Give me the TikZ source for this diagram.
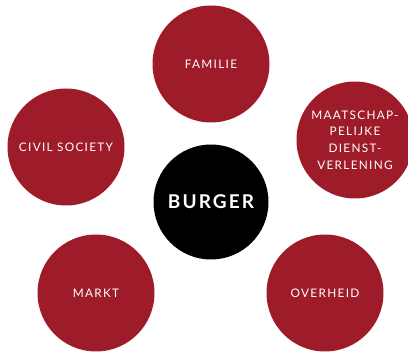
\documentclass[tikz,border=0pt]{standalone}
\usepackage{fontspec}
\setmainfont{Lato}
\usepackage{tikz}
\definecolor{wijnrood}{RGB}{158,27,42}
\def\spaced{\addfontfeatures{LetterSpace=11}}

\begin{document}
\begin{tikzpicture}[x=1pt,y=1pt,
        rol/.style={circle,fill=wijnrood,minimum size=117pt,inner sep=0pt,
            text=white,align=center,font=\fontsize{11.8}{16.8}\selectfont\spaced},
        kern/.style={circle,fill=black,minimum size=115pt,inner sep=0pt,
            text=white,font=\fontsize{19}{21}\selectfont\bfseries\spaced}]
                \useasboundingbox (0,0) rectangle (408,-352);
                \clip (0,0) rectangle (408,-352);
                \node[kern] (burger) at (211,-202) {BURGER};
                \node[rol] (familie) at (211,-64) {FAMILIE};
                \node[rol] (civil) at (66,-147) {CIVIL SOCIETY};
                \node[rol] (dienst) at (355,-140) {MAATSCHAP-\\PELIJKE\\DIENST-\\VERLENING};
                \node[rol] (markt) at (96,-293) {MARKT};
                \node[rol] (overheid) at (325,-293) {OVERHEID};
            \end{tikzpicture}
\end{document}
